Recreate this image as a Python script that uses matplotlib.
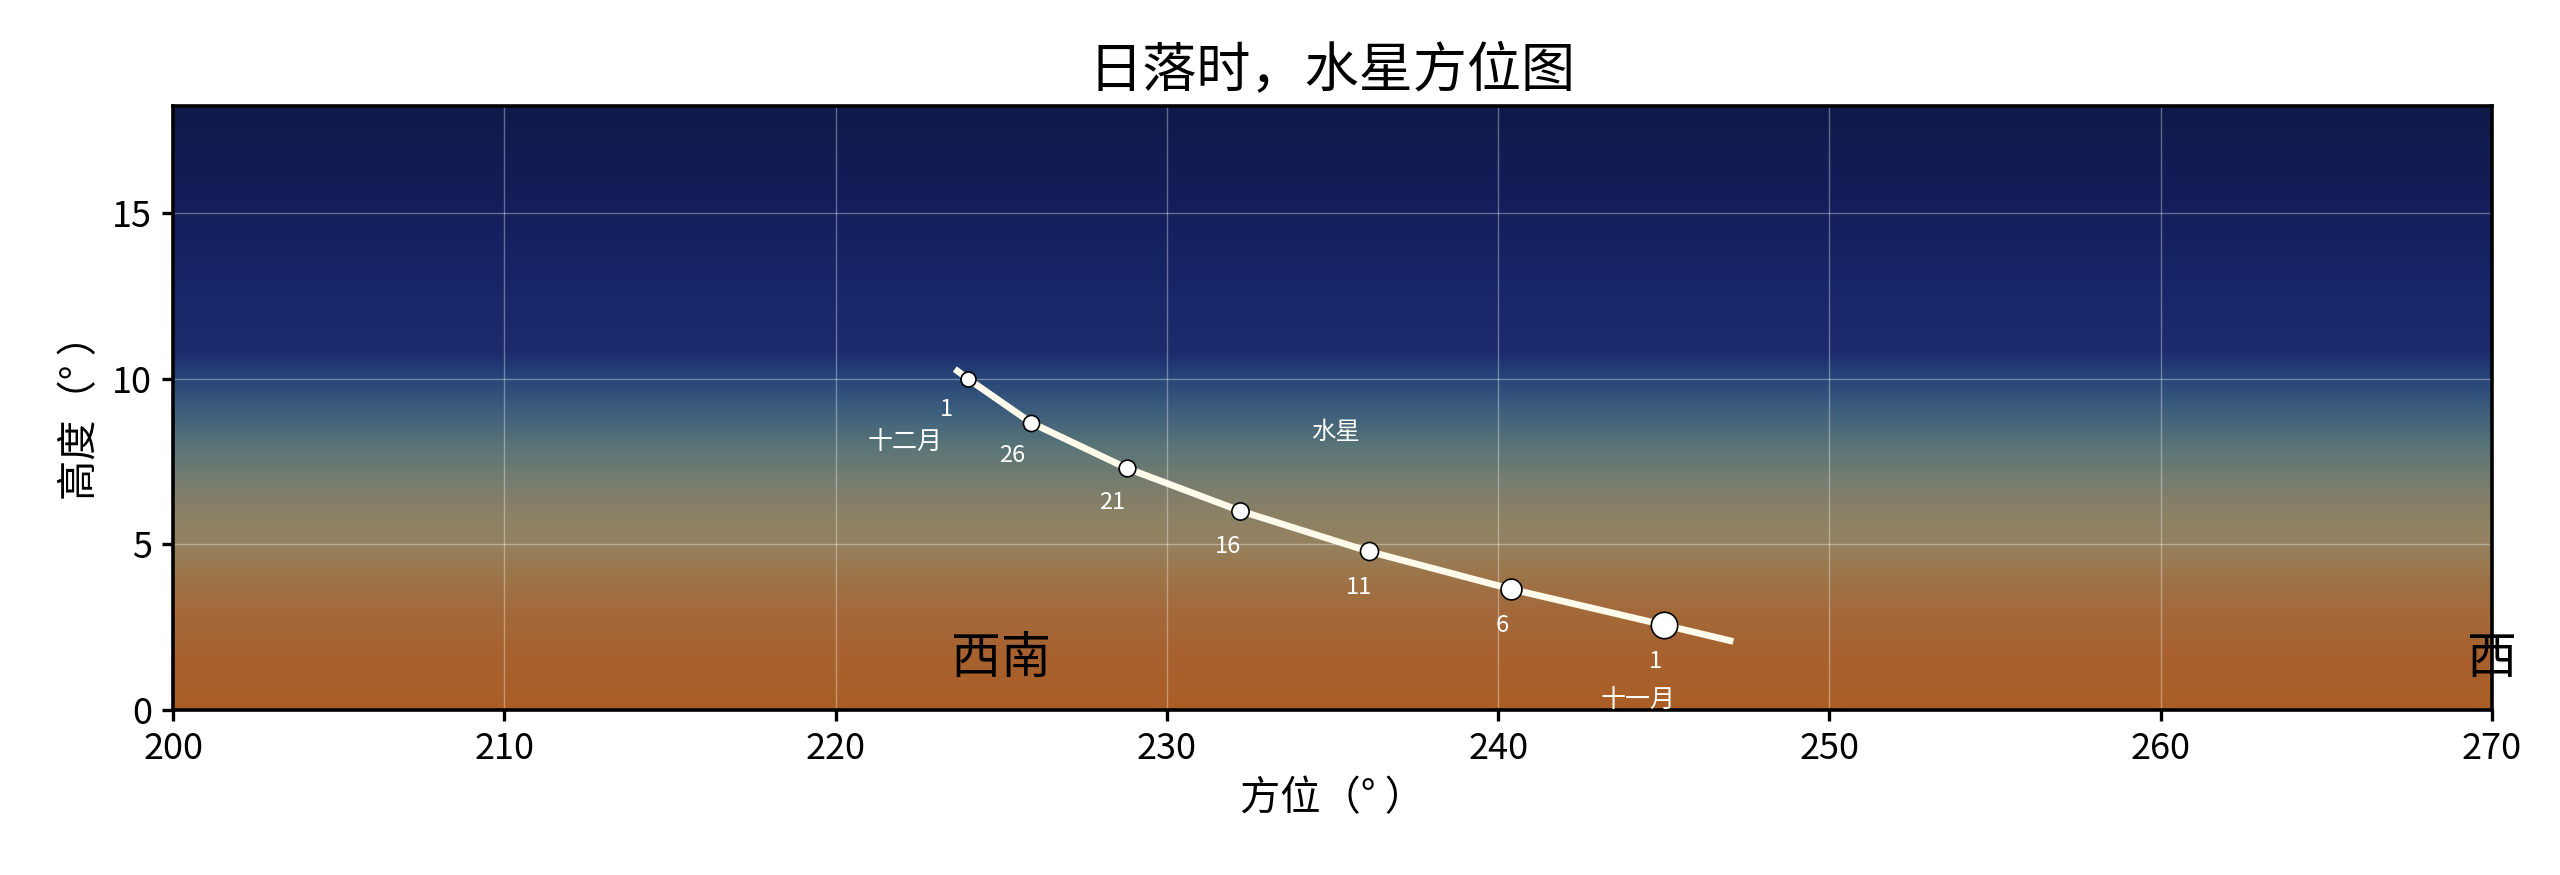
import numpy as np
import matplotlib
matplotlib.use("Agg")
import matplotlib.pyplot as plt
from matplotlib.colors import LinearSegmentedColormap

plt.rcParams['font.family'] = ['Noto Sans CJK SC', 'DejaVu Sans']
plt.rcParams['axes.unicode_minus'] = False

# ==== datos ====
# trayectoria del planeta (azimut, altura) en la puesta de sol
curva_az = [247.1, 245.0, 240.4, 236.1, 232.2, 228.8, 225.9, 224.0, 223.6]
curva_alt = [2.07, 2.57, 3.65, 4.79, 6.02, 7.30, 8.68, 10.0, 10.3]

# marcas cada 5 dias
fecha_dia = ["1", "6", "11", "16", "21", "26", "1"]
fecha_mes = ["十一月", "", "", "", "", "", "十二月"]
marca_az = [245.0, 240.4, 236.1, 232.2, 228.8, 225.9, 224.0]
marca_alt = [2.57, 3.65, 4.79, 6.02, 7.30, 8.68, 10.0]
marca_tam = [9.5, 7.5, 6.5, 6.2, 6.0, 5.8, 5.4]

nombre_planeta = "水星"
planeta_az, planeta_alt = 235.1, 8.39

puntos_cardinales = ["西南", "西"]
cardinal_az = [225.0, 270.0]
cardinal_alt = 1.53

# degradado del cielo: (altura, color)
cielo_alt = [0.0, 1.5, 3.0, 4.0, 5.0, 6.0, 7.0, 8.0, 9.0, 10.0, 10.8, 12.5, 15.0, 18.25]
cielo_col = ["#ab5e26", "#a8612e", "#a36a3b", "#9d7449", "#95825f", "#8a8166",
             "#747c70", "#587478", "#3d5e7c", "#274679", "#1c2c6c", "#182769",
             "#141f5c", "#0f1a4a"]

x_lim = (200, 270)
y_lim = (0, 18.25)

# ==== figura ====
fig = plt.figure(figsize=(12.8, 4.375), dpi=200)
ax = fig.add_axes([0.0676, 0.1886, 0.9058, 0.6904])

pos = [(a - y_lim[0]) / (y_lim[1] - y_lim[0]) for a in cielo_alt]
cmap = LinearSegmentedColormap.from_list("cielo", list(zip(pos, cielo_col)))
grad = np.linspace(0, 1, 512).reshape(-1, 1)
ax.imshow(grad, cmap=cmap, origin="lower", aspect="auto",
          extent=[x_lim[0], x_lim[1], y_lim[0], y_lim[1]], zorder=0)

ax.set_xlim(*x_lim)
ax.set_ylim(*y_lim)
ax.set_xticks(range(200, 271, 10))
ax.set_yticks([0, 5, 10, 15])
ax.grid(True, color="white", alpha=0.35, linewidth=0.5, zorder=1)

ax.plot(curva_az, curva_alt, color="#fffbea", linewidth=2.4,
        solid_capstyle="butt", zorder=3)
for az, alt, ms in zip(marca_az, marca_alt, marca_tam):
    ax.plot(az, alt, "o", color="white", markeredgecolor="black",
            markeredgewidth=0.6, markersize=ms, zorder=4)

# etiquetas perpendiculares a la curva (en coordenadas de pantalla)
fig.canvas.draw()
pts = ax.transData.transform(np.column_stack([marca_az, marca_alt]))
for i, (dia, mes) in enumerate(zip(fecha_dia, fecha_mes)):
    a = pts[max(i - 1, 0)]
    b = pts[min(i + 1, len(pts) - 1)]
    d = b - a
    d = d / np.hypot(*d)
    n = np.array([d[1], -d[0]])
    if n[1] > 0:
        n = -n
    off = n * 13.5
    ax.annotate(dia, (marca_az[i], marca_alt[i]), xytext=(off[0], off[1]),
                textcoords="offset points", ha="center", va="center",
                color="white", fontsize=8.5, zorder=5)
    if mes:
        off2 = n * 28 + np.array([n[0] * 12, 0])
        ax.annotate(mes, (marca_az[i], marca_alt[i]), xytext=(off2[0], off2[1]),
                    textcoords="offset points", ha="center", va="center",
                    color="white", fontsize=9, zorder=5, annotation_clip=False,
                    clip_on=True)

ax.text(planeta_az, planeta_alt, nombre_planeta, color="white", fontsize=8.8,
        ha="center", va="center", zorder=5)

for nom, az in zip(puntos_cardinales, cardinal_az):
    ax.text(az, cardinal_alt, nom, color="black", fontsize=18, fontweight="light",
            ha="center", va="center", clip_on=False, zorder=5)

ax.set_title("日落时，水星方位图", fontsize=19.5, pad=7)
ax.set_xlabel("方位（° ）", fontsize=14.5)
ax.set_ylabel("高度（° ）", fontsize=14.5)
ax.tick_params(axis="both", direction="out", length=4, width=1.2, labelsize=13)
for s in ax.spines.values():
    s.set_linewidth(1.3)

fig.savefig("out.png", dpi=200)
